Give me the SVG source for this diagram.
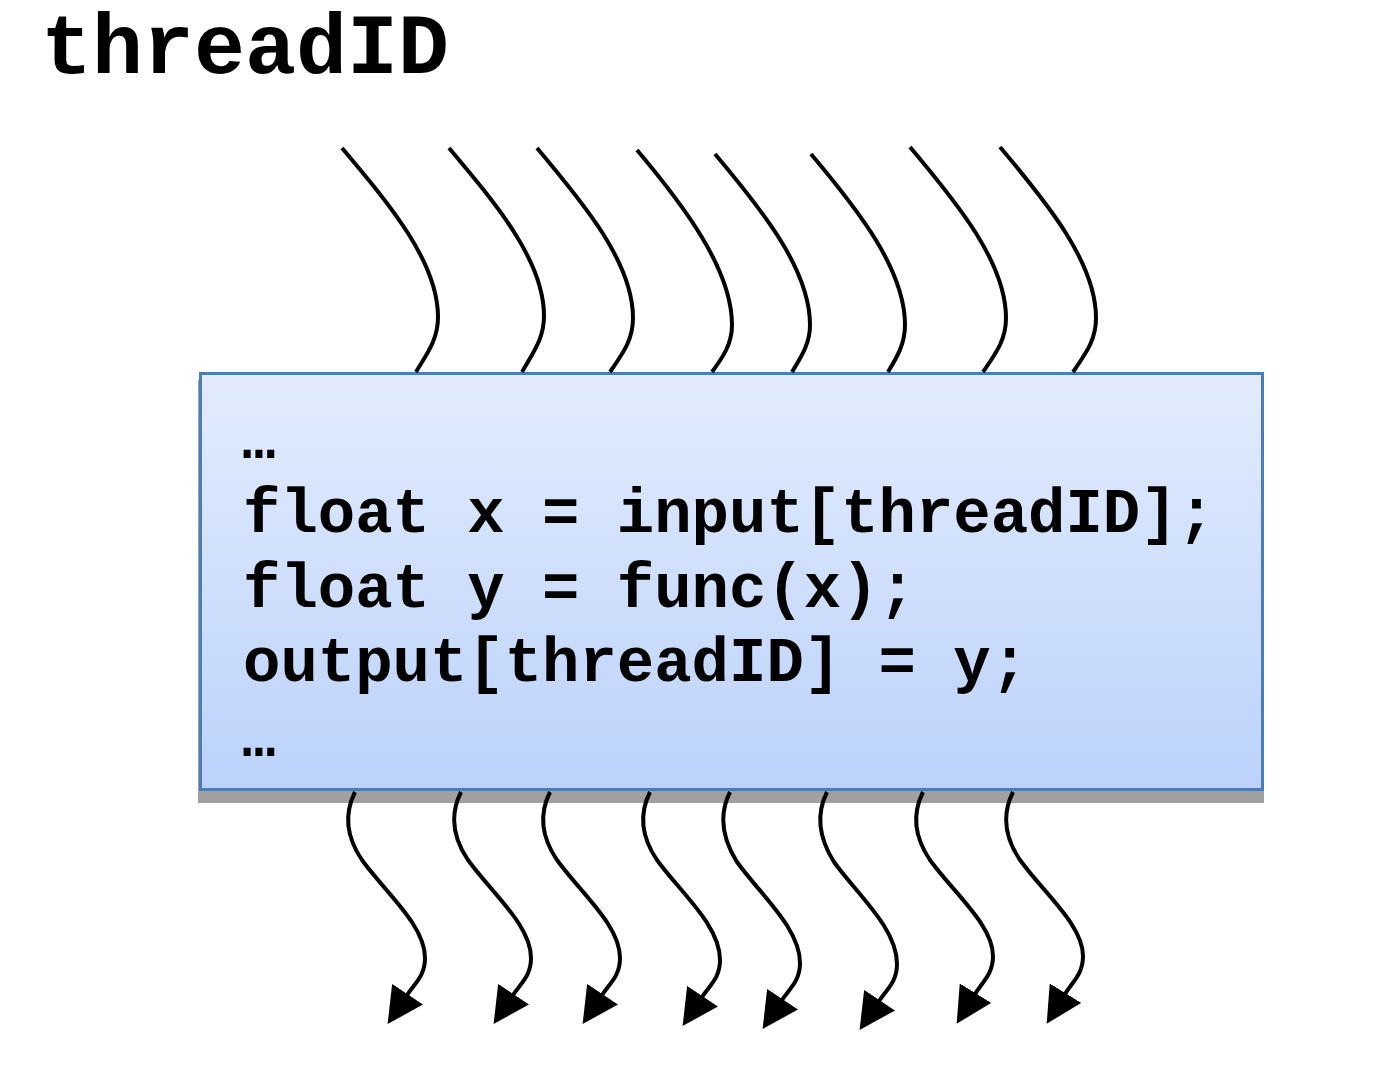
<svg xmlns="http://www.w3.org/2000/svg" width="1395" height="1074" viewBox="0 0 1395 1074">
  <style>
    .title { font-family: "Liberation Mono", "Courier New", monospace; font-weight: bold; font-size: 85px; fill: #000; }
    .code { font-family: "Liberation Mono", "Courier New", monospace; font-weight: bold; font-size: 62.3px; fill: #000; white-space: pre; }
    .dots { font-family: "Liberation Mono", "Courier New", monospace; font-weight: bold; font-size: 56px; fill: #000; }
    .thread { fill: none; stroke: #000; stroke-width: 4; stroke-linecap: butt; }
    .out { marker-end: url(#arrow); }
  </style>
  <defs>
    <linearGradient id="boxGrad" x1="0" y1="0" x2="0" y2="1">
      <stop offset="0" stop-color="#e2ecfd"/>
      <stop offset="1" stop-color="#bcd2fb"/>
    </linearGradient>
    <marker id="arrow" markerUnits="userSpaceOnUse" viewBox="0 0 36 37" markerWidth="36" markerHeight="37" refX="1" refY="18.5" orient="auto">
      <path d="M0,0 L36,18.5 L0,37 z" fill="#000"/>
    </marker>
  </defs>

  <rect width="1395" height="1074" fill="#fff"/>

  <g id="title">
    <text class="title" x="41" y="73">threadID</text>
  </g>

  <g id="kernel">
    <rect x="198" y="380" width="1066" height="423" fill="#a0a0a0"/>
    <rect x="200.5" y="373.5" width="1062" height="416" fill="url(#boxGrad)" stroke="#4a7ebb" stroke-width="3"/>
    <text class="dots" x="242" y="458">…</text>
    <text class="code" x="243" y="532">float x = input[threadID];</text>
    <text class="code" x="243" y="607">float y = func(x);</text>
    <text class="code" x="243" y="681">output[threadID] = y;</text>
    <text class="dots" x="242" y="756">…</text>
  </g>

  <g id="connectors">
    <g id="threads-in">
      <path class="thread" d="M342,148 C390,205 438,262 438,317 C438,339 428,352 416,372"/>
      <path class="thread" d="M449,148 C497,205 544,261 544,316 C544,338 534,351 522,372"/>
      <path class="thread" d="M537,148 C585,205 633,263 633,318 C633,340 623,353 610,372"/>
      <path class="thread" d="M637,150 C685,207 732,270 732,325 C732,344 723,357 712,372"/>
      <path class="thread" d="M715,154 C763,211 810,270 810,325 C810,344 801,357 792,372"/>
      <path class="thread" d="M811,154 C859,211 905,270 905,325 C905,344 897,357 888,372"/>
      <path class="thread" d="M910,147 C958,204 1006,263 1006,318 C1006,340 996,353 983,372"/>
      <path class="thread" d="M1000,147 C1048,204 1096,263 1096,318 C1096,340 1086,353 1073,372"/>
    </g>
    <g id="threads-out">
      <path class="thread out" d="M355,792 C345,812 345,835 362,860 C385,892 425,925 425,958 C425,976 415,983 407,995"/>
      <path class="thread out" d="M461,792 C451,812 451,835 468,860 C491,892 531,925 531,958 C531,976 521,983 513,995"/>
      <path class="thread out" d="M550,792 C540,812 540,835 557,860 C580,892 620,925 620,958 C620,976 610,983 602,995"/>
      <path class="thread out" d="M650,792 C640,812 640,835 657,860 C680,892 720,925 720,960 C720,978 710,985 702,997"/>
      <path class="thread out" d="M730,792 C720,812 720,835 737,862 C760,894 800,928 800,963 C800,981 790,988 782,1000"/>
      <path class="thread out" d="M827,792 C817,812 817,835 834,862 C857,894 897,928 897,964 C897,982 887,989 879,1001"/>
      <path class="thread out" d="M923,792 C913,812 913,835 930,860 C953,892 993,925 993,956 C993,974 983,981 975,994"/>
      <path class="thread out" d="M1013,792 C1003,812 1003,835 1020,860 C1043,892 1083,925 1083,956 C1083,974 1073,981 1065,994"/>
    </g>
  </g>
</svg>
